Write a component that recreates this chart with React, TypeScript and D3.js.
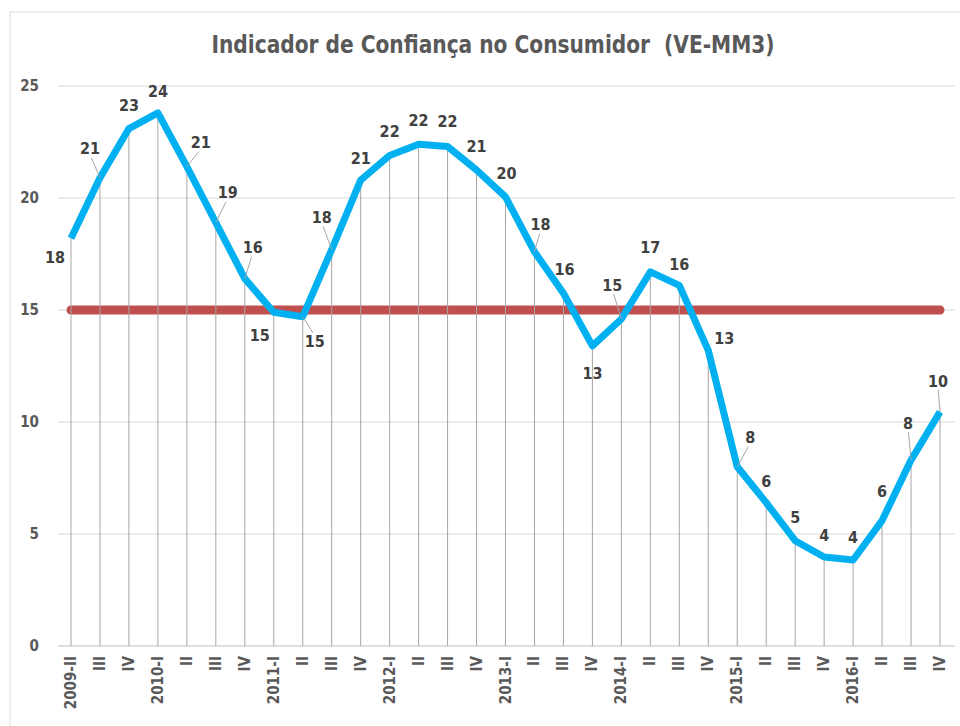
import React from "react";
import * as d3 from "d3";

const categories = [
  "2009-II", "III", "IV",
  "2010-I", "II", "III", "IV",
  "2011-I", "II", "III", "IV",
  "2012-I", "II", "III", "IV",
  "2013-I", "II", "III", "IV",
  "2014-I", "II", "III", "IV",
  "2015-I", "II", "III", "IV",
  "2016-I", "II", "III", "IV",
];

const values = [
  18.2, 20.9, 23.1,
  23.8, 21.4, 18.9, 16.4,
  14.9, 14.7, 17.7, 20.8,
  21.9, 22.4, 22.3, 21.25,
  20.05, 17.6, 15.75, 13.4,
  14.6, 16.7, 16.1, 13.2,
  8.0, 6.4, 4.7, 3.97,
  3.84, 5.6, 8.3, 10.45,
];

const referenceValue = 15;
const yTicks = [0, 5, 10, 15, 20, 25];
const title = "Indicador de Confiança no Consumidor  (VE-MM3)";

// label placement offsets [dx, dy, leader?]
const labelOffsets: [number, number, boolean][] = [
  [-16, 19, false], [-10, -29, true], [0, -23, false],
  [0, -21, false], [14, -24, true], [12, -30, true], [8, -31, true],
  [-14, 23, false], [12, 25, true], [-10, -32, true], [0, -22, false],
  [0, -24, false], [0, -24, false], [0, -25, false], [0, -24, false],
  [1, -23, false], [6, -27, true], [1, -24, false], [0, 28, false],
  [-9, -34, true], [0, -25, false], [0, -21, false], [16, -12, false],
  [13, -29, true], [0, -21, false], [0, -23, false], [0, -22, false],
  [0, -23, false], [0, -29, false], [-3, -37, true], [-2, -31, true],
];

const W = 960;
const H = 726;
const FONT = "'Liberation Sans Narrow', 'DejaVu Sans Condensed', 'Open Sans', sans-serif";

export default function App() {
  const x = d3
    .scalePoint<string>()
    .domain(categories.map((c, i) => i + ""))
    .range([71, 940]);
  const y = d3.scaleLinear().domain([0, 25]).range([646, 86]);

  const line = d3
    .line<number>()
    .x((_, i) => x(i + "")!)
    .y((d) => y(d));

  const labelColor = "#404040";

  return (
    <svg
      width={W}
      height={H}
      style={{ position: "absolute", left: 0, top: 0, background: "#fff" }}
    >
      <rect x={0} y={0} width={W} height={H} fill="#fff" />
      <rect x={10} y={12} width={W + 20} height={H + 20} fill="#fff" stroke="#d9d9d9" strokeWidth={1} />
      <text
        x={493}
        y={53}
        textAnchor="middle"
        fontFamily={FONT}
        fontWeight="bold"
        fontSize={24}
        fill="#595959"
        textLength={563}
        lengthAdjust="spacingAndGlyphs"
        style={{ whiteSpace: "pre" }}
      >
        {title}
      </text>

      {/* gridlines */}
      {yTicks.map((t) => (
        <g key={t}>
          <line x1={58} x2={955} y1={y(t)} y2={y(t)} stroke={t === 0 ? "#bfbfbf" : "#d9d9d9"} strokeWidth={1} />
          <text
            x={39}
            y={y(t)}
            dy="0.35em"
            textAnchor="end"
            fontFamily={FONT}
            fontWeight="bold"
            fontSize={15}
            fill="#595959"
          >
            {t}
          </text>
        </g>
      ))}

      {/* reference line */}
      <line
        x1={x("0")!}
        x2={x(String(categories.length - 1))!}
        y1={y(referenceValue)}
        y2={y(referenceValue)}
        stroke="#c0504d"
        strokeWidth={9}
        strokeLinecap="round"
      />

      {/* drop lines */}
      {values.map((v, i) => (
        <line
          key={"d" + i}
          x1={x(i + "")!}
          x2={x(i + "")!}
          y1={y(v)}
          y2={y(0)}
          stroke="#a6a6a6"
          strokeWidth={1}
        />
      ))}

      {/* series line */}
      <path
        d={line(values)!}
        fill="none"
        stroke="#00b0f0"
        strokeWidth={7}
        strokeLinejoin="round"
      />

      {/* labels */}
      {values.map((v, i) => {
        const px = x(i + "")!;
        const py = y(v);
        const [dx, dy, leader] = labelOffsets[i];
        const lx = px + dx;
        const ly = py + dy;
        return (
          <g key={"l" + i}>
            {leader && (
              <line
                x1={lx - dx * 0.15}
                y1={ly + (dy < 0 ? 9 : -9)}
                x2={px}
                y2={py}
                stroke="#a6a6a6"
                strokeWidth={1}
              />
            )}
            <text
              x={lx}
              y={ly}
              dy="0.35em"
              textAnchor="middle"
              fontFamily={FONT}
              fontWeight="bold"
              fontSize={16}
              fill={labelColor}
            >
              {Math.round(v)}
            </text>
          </g>
        );
      })}

      {/* x labels */}
      {categories.map((c, i) => (
        <text
          key={"x" + i}
          transform={`translate(${x(i + "")! + 5},656) rotate(-90)`}
          textAnchor="end"
          fontFamily={FONT}
          fontWeight="bold"
          fontSize={15}
          fill="#595959"
        >
          {c}
        </text>
      ))}
    </svg>
  );
}
